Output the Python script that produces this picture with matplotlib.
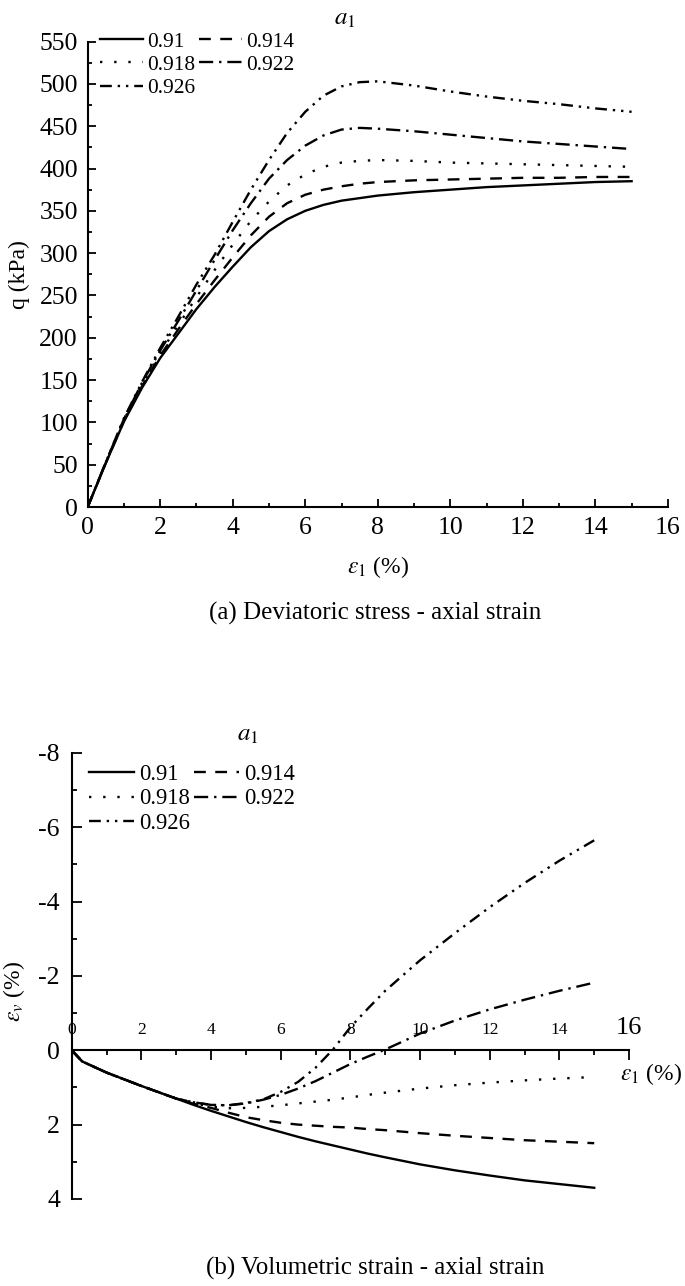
import numpy as np
import matplotlib
matplotlib.use('Agg')
import matplotlib.pyplot as plt
from matplotlib.ticker import MultipleLocator

plt.rcParams['font.family'] = 'Liberation Serif'
plt.rcParams['mathtext.fontset'] = 'stix'
plt.rcParams['axes.unicode_minus'] = False

labels = ['0.91', '0.914', '0.918', '0.922', '0.926']

# (a) deviatoric stress q (kPa) vs axial strain (%)
eps_q = [0, 0.5, 1, 1.5, 2, 2.5, 3, 3.5, 4, 4.5, 5, 5.5, 6, 6.5, 7, 7.5, 8, 9, 10, 11, 12, 13, 14, 15]
q_091 = [0, 52, 101, 141, 176, 205, 234, 260, 284, 307, 326, 340, 350, 357, 362, 365, 368, 372, 375, 378, 380, 382, 384, 385]
q_0914 = [0, 52, 102, 143, 179, 210, 240, 268, 295, 321, 343, 359, 369, 375, 379, 382, 384, 386, 387, 388, 389, 389, 390, 390]
q_0918 = [0, 53, 103, 145, 182, 215, 248, 280, 310, 338, 361, 380, 393, 402, 407, 409, 410, 409, 407, 406, 405, 404, 403, 402]
q_0922 = [0, 53, 104, 147, 185, 220, 256, 292, 327, 359, 388, 410, 427, 439, 446, 448, 447, 444, 440, 436, 432, 429, 426, 423]
q_0926 = [0, 53, 105, 148, 188, 225, 263, 298, 337, 375, 410, 442, 467, 486, 497, 502, 503, 498, 491, 485, 480, 476, 471, 467]

# (b) volumetric strain (%) vs axial strain (%)
eps_v_x = [0, 0.3, 1, 2, 3, 3.5, 4, 4.5, 5, 5.5, 6, 6.5, 7, 7.5, 8, 8.5, 9, 10, 11, 12, 13, 14, 15]
v_091 = [0, 0.3, 0.6, 0.96, 1.3, 1.47, 1.63, 1.78, 1.93, 2.07, 2.2, 2.33, 2.45, 2.56, 2.67, 2.78, 2.88, 3.07, 3.23, 3.37, 3.5, 3.6, 3.7]
v_0914 = [0, 0.3, 0.6, 0.96, 1.3, 1.44, 1.55, 1.68, 1.8, 1.88, 1.95, 2.0, 2.03, 2.06, 2.08, 2.12, 2.15, 2.23, 2.3, 2.36, 2.42, 2.46, 2.5]
v_0918 = [0, 0.3, 0.6, 0.96, 1.3, 1.42, 1.52, 1.56, 1.55, 1.52, 1.48, 1.43, 1.38, 1.33, 1.27, 1.2, 1.14, 1.03, 0.94, 0.87, 0.81, 0.76, 0.72]
v_0922 = [0, 0.3, 0.6, 0.96, 1.3, 1.4, 1.47, 1.48, 1.43, 1.33, 1.2, 1.03, 0.83, 0.6, 0.37, 0.17, -0.02, -0.45, -0.8, -1.1, -1.36, -1.6, -1.82]
v_0926 = [0, 0.3, 0.6, 0.96, 1.3, 1.4, 1.47, 1.48, 1.42, 1.32, 1.12, 0.85, 0.47, -0.02, -0.62, -1.12, -1.6, -2.42, -3.15, -3.85, -4.5, -5.1, -5.65]

styles = ['-', (0, (5, 4)), (0, (1, 5)), (0, (6, 2.5, 1, 2.5)), (0, (5, 2.5, 1, 2.5, 1, 2.5))]
LW = 1.7


def legend(ax, x, y, size):
    h, l = ax.get_legend_handles_labels()
    order = [0, 2, 4, 1, 3]
    ax.legend([h[i] for i in order], [l[i] for i in order], ncol=2, loc='upper left',
              bbox_to_anchor=(x, y), frameon=False, fontsize=size, borderpad=0,
              borderaxespad=0, handlelength=2.0, handletextpad=0.2,
              columnspacing=0.2, labelspacing=0.15)


fig = plt.figure(figsize=(6.85, 12.86), dpi=100)

# ---- (a)
ax1 = fig.add_axes([0.128, 0.6057, 0.847, 0.362])
for ys, ls, lab in zip([q_091, q_0914, q_0918, q_0922, q_0926], styles, labels):
    ax1.plot(eps_q, ys, color='black', lw=LW, linestyle=ls, label=lab)
ax1.set_xlim(0, 16)
ax1.set_ylim(0, 550)
ax1.xaxis.set_major_locator(MultipleLocator(2))
ax1.xaxis.set_minor_locator(MultipleLocator(1))
ax1.yaxis.set_major_locator(MultipleLocator(50))
ax1.yaxis.set_minor_locator(MultipleLocator(25))
for s in ['top', 'right']:
    ax1.spines[s].set_visible(False)
for s in ['left', 'bottom']:
    ax1.spines[s].set_linewidth(1.5)
ax1.tick_params(which='both', direction='in', labelsize=18.5, width=1.3, pad=7)
ax1.tick_params(which='major', length=6)
ax1.tick_params(which='minor', length=3)
ax1.set_xlabel(r'$\varepsilon_1$ (%)', fontsize=17)
ax1.xaxis.set_label_coords(0.5, -0.1)
ax1.set_ylabel('q (kPa)', fontsize=17)
ax1.yaxis.set_label_coords(-0.1, 0.5)
ax1.set_title('$a_1$', fontsize=18, x=0.443, y=1.049, va='center', pad=0)
legend(ax1, 0.021, 1.021, 15.4)
fig.text(0.547, 0.523, '(a) Deviatoric stress - axial strain', fontsize=18, ha='center', va='center')

# ---- (b)
ax2 = fig.add_axes([0.1047, 0.0677, 0.8136, 0.3468])
for ys, ls, lab in zip([v_091, v_0914, v_0918, v_0922, v_0926], styles, labels):
    ax2.plot(eps_v_x, ys, color='black', lw=LW, linestyle=ls, label=lab)
ax2.set_xlim(0, 16)
ax2.set_ylim(4, -8)
ax2.xaxis.set_major_locator(MultipleLocator(2))
ax2.xaxis.set_minor_locator(MultipleLocator(1))
ax2.yaxis.set_major_locator(MultipleLocator(2))
ax2.yaxis.set_minor_locator(MultipleLocator(1))
for s in ['top', 'right']:
    ax2.spines[s].set_visible(False)
for s in ['left', 'bottom']:
    ax2.spines[s].set_linewidth(1.5)
ax2.spines['bottom'].set_position(('data', 0))
ax2.tick_params(axis='y', which='both', direction='in', labelsize=18.5, width=1.3, pad=8.5)
ax2.tick_params(axis='y', which='major', length=7)
ax2.tick_params(axis='y', which='minor', length=3.5)
ax2.tick_params(axis='x', which='both', direction='out', labelsize=12.5, width=1.3, pad=-18.5)
ax2.tick_params(axis='x', which='major', length=7)
ax2.tick_params(axis='x', which='minor', length=3.5)
ax2.set_xlabel(r'$\varepsilon_1$ (%)', fontsize=17)
ax2.xaxis.set_label_coords(1.04, 0.31)
ax2.set_ylabel(r'$\varepsilon_v$ (%)', fontsize=17)
ax2.yaxis.set_label_coords(-0.08, 0.466)
ax2.set_title('$a_1$', fontsize=18, x=0.315, y=1.04, va='center', pad=0)
legend(ax2, 0.031, 0.975, 16.3)
fig.text(0.547, 0.014, '(b) Volumetric strain - axial strain', fontsize=18, ha='center', va='center')

fig.canvas.draw()
for t in ax2.get_xticklabels():
    t.set_va('baseline')
    if t.get_text() == '16':
        t.set_fontsize(19)

fig.savefig('out.png', dpi=100)
